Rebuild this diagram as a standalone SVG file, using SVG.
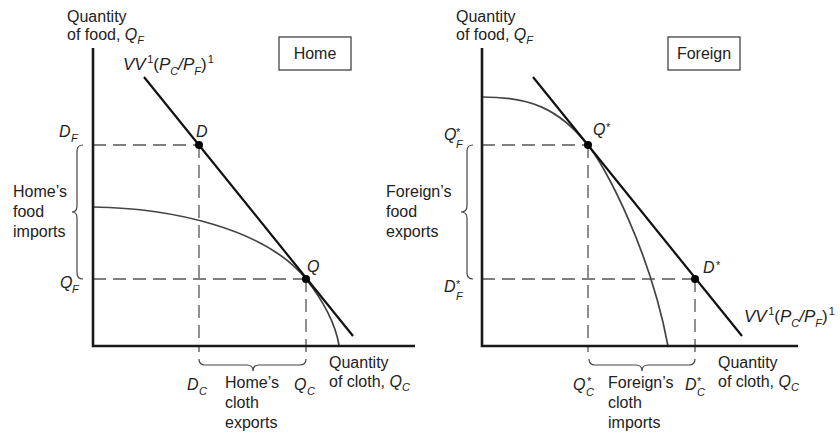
<svg xmlns="http://www.w3.org/2000/svg" width="840" height="434" viewBox="0 0 840 434">
<style>
text{font-family:"Liberation Sans",Arial,sans-serif;font-size:16px;fill:#222}
.it{font-style:italic}
.s{font-size:11px}
.vv{font-size:17px}
.axis{stroke:#1a1a1a;stroke-width:2.6;fill:none}
.vline{stroke:#111;stroke-width:2.2;fill:none}
.ppf{stroke:#444;stroke-width:1.7;fill:none}
.dash{stroke:#555;stroke-width:1.3;stroke-dasharray:13 7;fill:none}
.brace{stroke:#444;stroke-width:1.2;fill:none}
.box{stroke:#444;stroke-width:1.3;fill:#fff}
.dot{fill:#000}
</style>
<rect width="840" height="434" fill="#fff"/>

<g id="connectors">
  <!-- Home panel -->
  <path class="dash" d="M93,145 H199 M199,145 V352 M93,279 H306 M306,279 V352"/>
  <path class="ppf" d="M93,207 C170,208 265,228 306,279 C321,298 335,322 339,345"/>
  <path class="vline" d="M144,77 L353,336"/>
  <path class="axis" d="M93,48 V346 H415"/>
  <path class="brace" d="M83,145 Q77,145 77,151 L77,206 Q77,212 72,212 Q77,212 77,218 L77,273 Q77,279 83,279"/>
  <path class="brace" d="M199,359 Q199,365 205,365 L247,365 Q253,365 253,371 Q253,365 259,365 L300,365 Q306,365 306,359"/>
  <!-- Foreign panel -->
  <path class="dash" d="M482,145 H588 M588,145 V352 M482,279 H695 M695,279 V352"/>
  <path class="ppf" d="M482,97 C530,97 558,108 588,145 C605,166 650,250 668,346"/>
  <path class="vline" d="M533,77 L742,336"/>
  <path class="axis" d="M482,48 V346 H798"/>
  <path class="brace" d="M473,145 Q467,145 467,151 L467,206 Q467,212 461,212 Q467,212 467,218 L467,273 Q467,279 473,279"/>
  <path class="brace" d="M589,359 Q589,365 595,365 L636,365 Q642,365 642,371 Q642,365 648,365 L689,365 Q695,365 695,359"/>
</g>

<g id="home-box"><rect class="box" x="279" y="37" width="72" height="33"/><text x="315" y="59" text-anchor="middle">Home</text></g>
<g id="foreign-box"><rect class="box" x="668" y="37" width="72" height="33"/><text x="704" y="59" text-anchor="middle">Foreign</text></g>

<g id="home-yaxis-label"><text x="67" y="22">Quantity</text><text x="67" y="40">of food, <tspan class="it">Q</tspan><tspan class="it s" dy="4">F</tspan></text></g>
<g id="home-xaxis-label"><text x="329" y="368">Quantity</text><text x="329" y="387">of cloth, <tspan class="it">Q</tspan><tspan class="it s" dy="4">C</tspan></text></g>
<g id="home-vv"><text class="vv" x="123" y="70"><tspan class="it">VV</tspan><tspan class="s" dx="1.5" dy="-7">1</tspan><tspan dy="7">(</tspan><tspan class="it">P</tspan><tspan class="it s" dy="5">C</tspan><tspan class="it" dy="-5">/P</tspan><tspan class="it s" dy="5">F</tspan><tspan dy="-5">)</tspan><tspan class="s" dx="1" dy="-7">1</tspan></text></g>
<g id="home-D"><circle class="dot" cx="199" cy="145" r="4"/><text class="it" x="196" y="137">D</text></g>
<g id="home-Q"><circle class="dot" cx="306" cy="279" r="4"/><text class="it" x="307" y="272">Q</text></g>
<g id="home-DF"><text class="it" x="59" y="137">D</text><text class="it s" x="71" y="142">F</text></g>
<g id="home-QF"><text class="it" x="60" y="288">Q</text><text class="it s" x="72" y="293">F</text></g>
<g id="home-DC"><text class="it" x="187" y="390">D</text><text class="it s" x="199" y="395">C</text></g>
<g id="home-QC"><text class="it" x="294" y="390">Q</text><text class="it s" x="307" y="395">C</text></g>
<g id="home-food-imports"><text x="13" y="197">Home’s</text><text x="13" y="217">food</text><text x="13" y="237">imports</text></g>
<g id="home-cloth-exports"><text x="225" y="388">Home’s</text><text x="225" y="408">cloth</text><text x="225" y="428">exports</text></g>

<g id="foreign-yaxis-label"><text x="456" y="22">Quantity</text><text x="456" y="40">of food, <tspan class="it">Q</tspan><tspan class="it s" dy="4">F</tspan></text></g>
<g id="foreign-xaxis-label"><text x="718" y="368">Quantity</text><text x="718" y="387">of cloth, <tspan class="it">Q</tspan><tspan class="it s" dy="4">C</tspan></text></g>
<g id="foreign-vv"><text class="vv" x="744" y="322"><tspan class="it">VV</tspan><tspan class="s" dx="1.5" dy="-7">1</tspan><tspan dy="7">(</tspan><tspan class="it">P</tspan><tspan class="it s" dy="5">C</tspan><tspan class="it" dy="-5">/P</tspan><tspan class="it s" dy="5">F</tspan><tspan dy="-5">)</tspan><tspan class="s" dx="1" dy="-7">1</tspan></text></g>
<g id="foreign-Qstar"><circle class="dot" cx="588" cy="145" r="4"/><text class="it" x="593" y="135">Q</text><text class="s" x="606" y="131">*</text></g>
<g id="foreign-Dstar"><circle class="dot" cx="695" cy="279" r="4"/><text class="it" x="703" y="273">D</text><text class="s" x="716" y="269">*</text></g>
<g id="foreign-QF"><text class="it" x="444" y="140">Q</text><text class="s" x="456" y="136">*</text><text class="it s" x="456" y="148">F</text></g>
<g id="foreign-DF"><text class="it" x="444" y="292">D</text><text class="s" x="456" y="288">*</text><text class="it s" x="456" y="300">F</text></g>
<g id="foreign-QC"><text class="it" x="573" y="390">Q</text><text class="s" x="587" y="385">*</text><text class="it s" x="586" y="396">C</text></g>
<g id="foreign-DC"><text class="it" x="685" y="390">D</text><text class="s" x="697" y="385">*</text><text class="it s" x="697" y="396">C</text></g>
<g id="foreign-food-exports"><text x="386" y="197">Foreign’s</text><text x="386" y="217">food</text><text x="386" y="237">exports</text></g>
<g id="foreign-cloth-imports"><text x="608" y="388">Foreign’s</text><text x="608" y="408">cloth</text><text x="608" y="428">imports</text></g>
</svg>
